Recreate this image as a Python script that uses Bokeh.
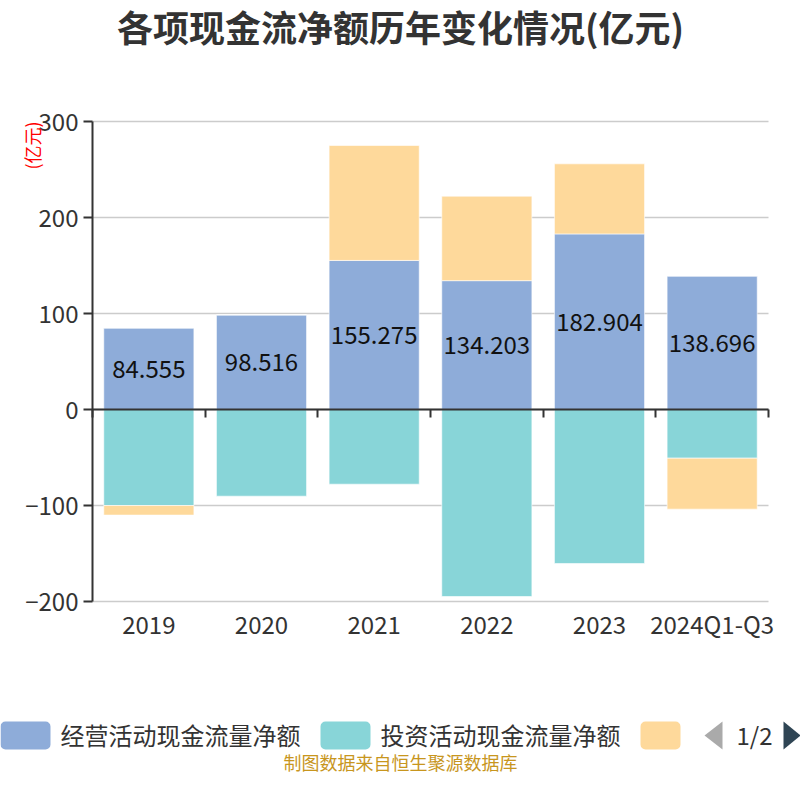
import math
from bokeh.plotting import figure
from bokeh.models import (Range1d, FixedTicker, LinearAxis, Label, BoxAnnotation,
                          PolyAnnotation, ColumnDataSource)
from bokeh.core.properties import value
from bokeh.embed import file_html
from bokeh.resources import INLINE

# ---------------- data ----------------
categories = ["2019", "2020", "2021", "2022", "2023", "2024Q1-Q3"]
operating = [84.555, 98.516, 155.275, 134.203, 182.904, 138.696]
investing = [-100.0, -90.3, -77.8, -194.8, -160.4, -50.7]
financing = [-10.0, 0.0, 119.7, 88.0, 73.0, -53.1]
series_names = ["经营活动现金流量净额", "投资活动现金流量净额", "筹资活动现金流量净额"]
y_ticks = [-200, -100, 0, 100, 200, 300]

colors = ["#8eacd9", "#88d5d8", "#fed99b"]
FONT = "Noto Sans CJK SC"
W = H = 800

xs = list(range(len(categories)))
n = len(categories)

# stacking (positive and negative stacks)
op_bottom = [0.0] * n
inv_top = [0.0] * n
fin_bottom, fin_top = [], []
for o, i, f in zip(operating, investing, financing):
    if f >= 0:
        fin_bottom.append(o)
        fin_top.append(o + f)
    else:
        fin_bottom.append(i)
        fin_top.append(i + f)

# plot area in pixels (canvas): left 92, right 768, top 121, bottom 601
PL, PR, PT, PB = 92, 768, 121, 601
ux = (PR - PL) / n                       # px per category
uy = (PB - PT) / (y_ticks[-1] - y_ticks[0])  # px per unit
x_start = -0.5 - PL / ux
x_end = (n - 0.5) + (W - PR) / ux
y_end = y_ticks[-1] + PT / uy
y_start = y_ticks[0] - (H - PB) / uy

p = figure(width=W, height=H, output_backend="svg", toolbar_location=None,
           x_range=Range1d(x_start, x_end), y_range=Range1d(y_start, y_end),
           x_axis_location=None, y_axis_location=None,
           min_border=0, min_border_left=0, min_border_right=0,
           min_border_top=0, min_border_bottom=0,
           background_fill_color="white", border_fill_color="white")
p.outline_line_color = None
p.grid.visible = False

# grid lines (horizontal, at y ticks, across the category span)
p.segment(x0=[-0.5] * len(y_ticks), x1=[n - 0.5] * len(y_ticks), y0=y_ticks, y1=y_ticks,
          line_color="#cccccc", line_width=1.5)

# bars
bw = 0.8
p.vbar(x=xs, bottom=op_bottom, top=operating, width=bw, fill_color=colors[0],
       line_color="#ffffff", line_width=0.6)
p.vbar(x=xs, bottom=investing, top=inv_top, width=bw, fill_color=colors[1],
       line_color="#ffffff", line_width=0.6)
p.vbar(x=xs, bottom=fin_bottom, top=fin_top, width=bw, fill_color=colors[2],
       line_color="#ffffff", line_width=0.6)

# y axis
yax = LinearAxis(fixed_location=-0.5, bounds=(y_ticks[0], y_ticks[-1]),
                 ticker=FixedTicker(ticks=y_ticks))
yax.axis_line_color = "#333333"
yax.axis_line_width = 2
yax.major_tick_line_color = "#333333"
yax.major_tick_line_width = 2
yax.major_tick_out = 9
yax.major_tick_in = 0
yax.minor_tick_line_color = None
yax.major_label_standoff = 5
yax.major_label_text_font = FONT
yax.major_label_text_font_size = "24px"
yax.major_label_text_color = "#333333"
p.add_layout(yax, "left")

# x category labels (at the bottom of the plot area)
xax = LinearAxis(fixed_location=y_ticks[0], bounds=(-0.5, n - 0.5),
                 ticker=FixedTicker(ticks=xs))
xax.major_label_overrides = {i: c for i, c in zip(xs, categories)}
xax.axis_line_color = None
xax.major_tick_line_color = None
xax.minor_tick_line_color = None
xax.major_tick_out = 0
xax.major_tick_in = 0
xax.major_label_standoff = 4
xax.major_label_text_font = FONT
xax.major_label_text_font_size = "24px"
xax.major_label_text_color = "#333333"
p.add_layout(xax, "below")

# zero axis line with boundary ticks
zax = LinearAxis(fixed_location=0, bounds=(-0.5, n - 0.5),
                 ticker=FixedTicker(ticks=[x - 0.5 for x in xs] + [n - 0.5]))
zax.axis_line_color = "#333333"
zax.axis_line_width = 2
zax.major_tick_line_color = "#333333"
zax.major_tick_line_width = 2
zax.major_tick_out = 8
zax.major_tick_in = 0
zax.minor_tick_line_color = None
zax.major_label_text_color = None
zax.major_label_text_font_size = "1px"
p.add_layout(zax, "below")

# data labels in operating bars
lab_src = ColumnDataSource(dict(x=xs, y=[v / 2 for v in operating],
                                t=[f"{v:.3f}" for v in operating]))
p.text(x="x", y="y", text="t", source=lab_src, text_align="center",
       text_baseline="middle", text_font=value(FONT), text_font_size="24px",
       text_color="#111111")

# ----- texts & legend (screen units: frame == whole canvas, y measured up) -----
def sy(cy):
    return H - cy

p.add_layout(Label(x=400, y=sy(25), x_units="screen", y_units="screen",
                   text="各项现金流净额历年变化情况(亿元)", text_align="center",
                   text_baseline="middle", text_font=FONT, text_font_size="36px",
                   text_font_style="bold", text_color="#333333"))
p.add_layout(Label(x=31, y=sy(145), x_units="screen", y_units="screen",
                   text="(亿元)", angle=math.pi / 2, text_align="center",
                   text_baseline="middle", text_font=FONT, text_font_size="18px",
                   text_color="#ff0000"))
p.add_layout(Label(x=400, y=sy(761), x_units="screen", y_units="screen",
                   text="制图数据来自恒生聚源数据库", text_align="center",
                   text_baseline="middle", text_font=FONT, text_font_size="18px",
                   text_color="#c8961e"))

# legend swatches
for (l, r), c in zip([(0, 50), (320, 370), (640, 680)], colors):
    p.add_layout(BoxAnnotation(left=l, right=r, top=sy(721), bottom=sy(749),
                               left_units="screen", right_units="screen",
                               top_units="screen", bottom_units="screen",
                               fill_color=c, fill_alpha=1, line_color=None,
                               border_radius=5))
for cx, name in zip([60, 380], series_names[:2]):
    p.add_layout(Label(x=cx, y=sy(734), x_units="screen", y_units="screen",
                       text=name, text_align="left", text_baseline="middle",
                       text_font=FONT, text_font_size="24px", text_color="#333333"))
p.add_layout(Label(x=754, y=sy(734), x_units="screen", y_units="screen",
                   text="1/2", text_align="center", text_baseline="middle",
                   text_font=FONT, text_font_size="24px", text_color="#333333"))
p.add_layout(PolyAnnotation(xs=[722, 722, 704], ys=[sy(721), sy(749), sy(735)],
                            xs_units="screen", ys_units="screen",
                            fill_color="#aaaaaa", fill_alpha=1, line_color=None))
p.add_layout(PolyAnnotation(xs=[783, 783, 800], ys=[sy(721), sy(749), sy(735)],
                            xs_units="screen", ys_units="screen",
                            fill_color="#2f4554", fill_alpha=1, line_color=None))

open("out.html", "w").write(file_html(p, INLINE))
